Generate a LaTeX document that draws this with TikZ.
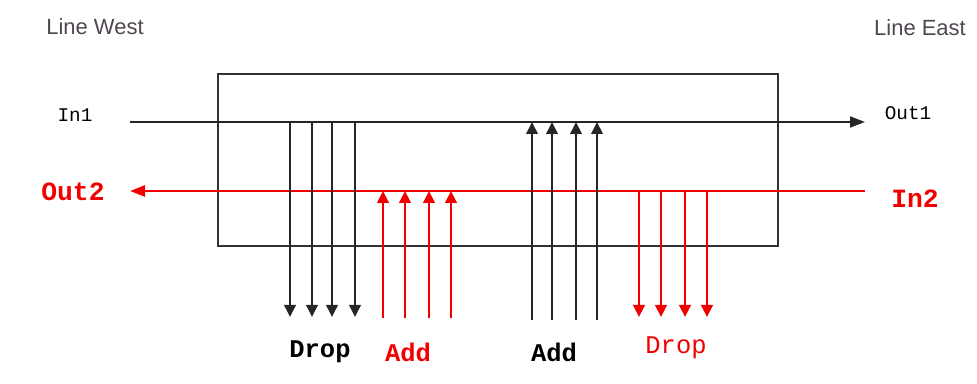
\documentclass[tikz,border=0pt]{standalone}
\usepackage{fontspec}
\setmainfont{Liberation Sans}
\newfontfamily\monofont{Liberation Mono}
\usetikzlibrary{arrows.meta}
\colorlet{boxline}{black!80}
\definecolor{westeast}{RGB}{80,70,80}
\colorlet{redline}{red!95!black}
\tikzset{
    sidelabel/.style={text=westeast, font=\fontsize{12.5}{14}\selectfont},
    portlabel/.style={font=\monofont\fontsize{11}{13}\selectfont},
    redport/.style={text=redline, font=\monofont\bfseries\fontsize{15}{17}\selectfont},
    chanlabel/.style={font=\monofont\bfseries\fontsize{14.5}{16}\selectfont},
    blackline/.style={draw=black!85, line width=1.1pt},
    redfibre/.style={draw=redline, line width=1.5pt},
    bigtip/.style={-{Triangle[length=3mm,width=2.2mm]}},
    smalltip/.style={-{Triangle[length=2.4mm,width=2.3mm]}}
}

\begin{document}
\begin{tikzpicture}
        \useasboundingbox (0,0) rectangle (19.54,7.68);
        % box
        \draw[boxline, line width=1pt] (4.36,2.76) rectangle (15.56,6.20);
        % labels
        \node[sidelabel] (west) at (1.9,7.14) {Line West};
        \node[sidelabel] (east) at (18.4,7.12) {Line East};
        \node[portlabel] (in1) at (1.5,5.38) {In1};
        \node[portlabel] (out1) at (18.16,5.42) {Out1};
        \node[redport] (out2) at (1.46,3.84) {Out2};
        \node[redport] (in2) at (18.3,3.7) {In2};
        % ~~~~~~~~~~~~~~~~~
        \coordinate (in1end) at (2.6,5.24);
        \coordinate (out1end) at (17.3,5.24);
        \coordinate (in2end) at (17.3,3.86);
        \coordinate (out2end) at (2.6,3.86);
        \draw[blackline, bigtip] (in1end) -- (out1end);
        \draw[redfibre, bigtip] (in2end) -- (out2end);
        % drop west
        \foreach \x [count=\i] in {5.80,6.24,6.64,7.10}
        {
            \coordinate (dw\i) at (\x,5.24);
            \coordinate (dwend\i) at (\x,1.34);
            \draw[blackline, smalltip] (dw\i) -- (dwend\i);
        }
        % add west
        \foreach \x [count=\i] in {7.66,8.10,8.58,9.02}
        {
            \coordinate (aw\i) at (\x,1.32);
            \coordinate (awend\i) at (\x,3.86);
            \draw[redfibre, smalltip] (aw\i) -- (awend\i);
        }
        % add east
        \foreach \x [count=\i] in {10.64,11.04,11.52,11.94}
        {
            \coordinate (ae\i) at (\x,1.28);
            \coordinate (aeend\i) at (\x,5.24);
            \draw[blackline, smalltip] (ae\i) -- (aeend\i);
        }
        % drop east
        \foreach \x [count=\i] in {12.78,13.22,13.70,14.14}
        {
            \coordinate (de\i) at (\x,3.86);
            \coordinate (deend\i) at (\x,1.34);
            \draw[redfibre, smalltip] (de\i) -- (deend\i);
        }
        \node[chanlabel] (dropw) at (6.4,0.64) {Drop};
        \node[chanlabel, text=redline] (addw) at (8.16,0.64) {Add};
        \node[chanlabel] (adde) at (11.08,0.64) {Add};
        \node[chanlabel, text=redline, font=\monofont\fontsize{14.5}{16}\selectfont] (drope) at (13.52,0.72) {Drop};
    \end{tikzpicture}
\end{document}
